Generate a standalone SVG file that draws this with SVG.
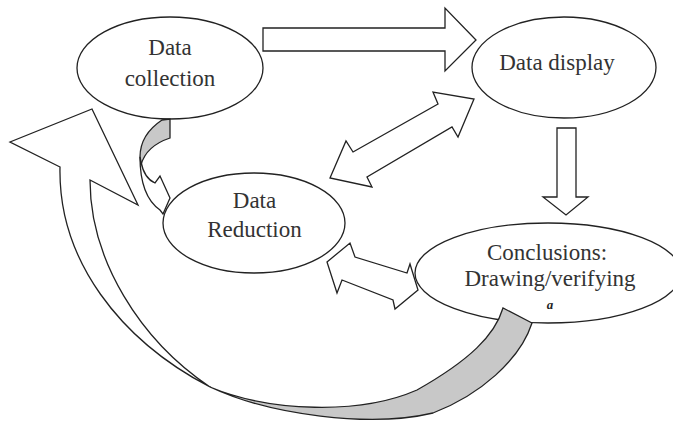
<svg xmlns="http://www.w3.org/2000/svg" width="673" height="423" viewBox="0 0 673 423">
<style>
.n{fill:#fff;stroke:#222;stroke-width:1.3}
.a{fill:#fff;stroke:#222;stroke-width:1.3;stroke-linejoin:miter}
.g{fill:#c8c8c8;stroke:#222;stroke-width:1.3}
text{font-family:"Liberation Serif","Times New Roman",serif;font-size:23px;fill:#333;text-anchor:middle}
</style>
<rect width="673" height="423" fill="#fff"/>
<g id="data-collection">
<ellipse class="n" cx="170" cy="68" rx="93" ry="51"/>
<text x="170" y="55">Data</text>
<text x="170" y="86">collection</text>
</g>
<g id="data-display">
<ellipse class="n" cx="564" cy="67.5" rx="92" ry="50.5"/>
<text x="557" y="70">Data display</text>
</g>
<g id="data-reduction">
<ellipse class="n" cx="254" cy="223" rx="91" ry="50"/>
<text x="254.5" y="208">Data</text>
<text x="254.5" y="237">Reduction</text>
</g>
<g id="conclusions">
<ellipse class="n" cx="548" cy="273" rx="133" ry="50"/>
<text x="547" y="260">Conclusions:</text>
<text x="550" y="286">Drawing/verifying</text>
<text x="550" y="309" style="font-size:13px;font-style:italic;font-weight:bold;fill:#222">a</text>
</g>
<g id="connectors">
<path class="a" d="M263,28 L445,28 L445,8 L476,40 L445,71 L445,51 L263,51 Z"/>
<path class="a" d="M557,128 L576,128 L576,197 L588,197 L566,215 L543,197 L557,197 Z"/>
<path class="a" d="M353,152 L438,104 L433,92 L474,99 L458,137 L452,127 L367,177 L372,187 L330,178 L346,141 Z"/>
<path class="a" d="M327,262 L350,243 L355,257 L407,273 L410,264 L418,290 L395,309 L393,300 L342,280 L337,293 Z"/>
<path class="g" d="M162,120 L170,119 L170,138 C158,142 145,150 141,165 L140,157 C140,140 150,128 162,120 Z"/>
<path class="a" d="M141,162 C143,172 148,180 155,183 L160,176 L170,198 L163,214 L160,210 C150,203 140,190 140,157 Z"/>
<path class="g" d="M210,387 C270,412 360,415 417,390 C470,360 495,335 503,308 L532,323 C520,360 480,395 433,413 C370,428 270,415 210,387 Z"/>
<path class="a" d="M60,167 L10,142 L92,109 L138,205 L90,180 C90,260 140,340 210,387 C120,340 58,260 60,167 Z"/>
</g>
</svg>
